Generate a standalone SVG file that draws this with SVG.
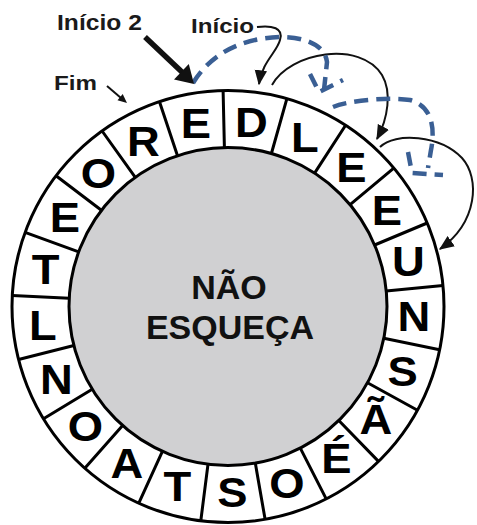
<svg xmlns="http://www.w3.org/2000/svg" width="477" height="525" viewBox="0 0 477 525">
<style>
.ring{stroke:#000;stroke-width:3}
.lt{font-family:"Liberation Sans",Arial,sans-serif;font-weight:bold;font-size:42px;text-anchor:middle;fill:#000}
.ct{font-family:"Liberation Sans",Arial,sans-serif;font-weight:bold;font-size:34px;text-anchor:middle;fill:#111}
.lbl{font-family:"Liberation Sans",Arial,sans-serif;font-weight:bold;fill:#1a1a1a}
.arc{fill:none;stroke:#111;stroke-width:2}
.dash{fill:none;stroke:#3a5f94;stroke-width:4.5;stroke-dasharray:14 8}
</style>
<defs>
<marker id="ah" viewBox="0 0 12 10" refX="11" refY="5" markerWidth="15" markerHeight="13" markerUnits="userSpaceOnUse" orient="auto"><path d="M0,0 L12,5 L0,10 z" fill="#111"/></marker>
</defs>
<rect width="477" height="525" fill="#fff"/>
<g id="ring">
<circle class="ring" cx="228" cy="306.5" r="216" fill="#fff"/>
<circle class="ring" cx="228" cy="306.5" r="159" fill="#d0d0d2"/>
<path class="ring" fill="none" d="M224.4,147.5L223.1,90.6M271.4,153.5L286.9,98.7M314.6,173.1L345.6,125.3M350.1,204.6L393.8,168.1M374.6,245L427.2,223M386.2,291L443,285.4M383.8,338.3L439.6,349.7M367.5,382.8L417.5,410.2M338.8,420.5L378.5,461.4M300.3,448.1L326.2,498.9M255.3,463.1L265.1,519.3M208,464.2L200.8,520.8M162.4,451.3L138.8,503.2M122.6,425.5L84.8,468.2M92.2,389.2L43.5,418.8M73.9,345.5L18.6,359.5M69.2,298.3L12.3,295.4M78.7,251.9L25.1,232.3M101.4,210.3L56,175.8M135.3,177.3L102.1,131M177.5,155.7L159.5,101.7"/>
</g>
<g id="center">
<text class="ct" x="229" y="299">NÃO</text>
<text class="ct" x="230" y="339">ESQUEÇA</text>
</g>
<g id="c00"><text class="lt" transform="translate(251.5 137) scale(1.08 1)">D</text></g>
<g id="c01"><text class="lt" transform="translate(304.9 152.1) scale(1.08 1)">L</text></g>
<g id="c02"><text class="lt" transform="translate(351.4 182.3) scale(1.08 1)">E</text></g>
<g id="c03"><text class="lt" transform="translate(386.9 224.8) scale(1.08 1)">E</text></g>
<g id="c04"><text class="lt" transform="translate(408.3 276) scale(1.08 1)">U</text></g>
<g id="c05"><text class="lt" transform="translate(413.8 331.1) scale(1.08 1)">N</text></g>
<g id="c06"><text class="lt" transform="translate(402.7 385.5) scale(1.08 1)">S</text></g>
<g id="c07"><text class="lt" transform="translate(376 434.1) scale(1.08 1)">Ã</text></g>
<g id="c08"><text class="lt" transform="translate(336.3 472.7) scale(1.08 1)">É</text></g>
<g id="c09"><text class="lt" transform="translate(286.9 497.9) scale(1.08 1)">O</text></g>
<g id="c10"><text class="lt" transform="translate(232.3 507.4) scale(1.08 1)">S</text></g>
<g id="c11"><text class="lt" transform="translate(177.3 500.5) scale(1.08 1)">T</text></g>
<g id="c12"><text class="lt" transform="translate(126.8 477.6) scale(1.08 1)">A</text></g>
<g id="c13"><text class="lt" transform="translate(85.3 440.8) scale(1.08 1)">O</text></g>
<g id="c14"><text class="lt" transform="translate(56.5 393.5) scale(1.08 1)">N</text></g>
<g id="c15"><text class="lt" transform="translate(42.9 339.7) scale(1.08 1)">L</text></g>
<g id="c16"><text class="lt" transform="translate(45.7 284.4) scale(1.08 1)">T</text></g>
<g id="c17"><text class="lt" transform="translate(64.8 232.3) scale(1.08 1)">E</text></g>
<g id="c18"><text class="lt" transform="translate(98.3 188.2) scale(1.08 1)">O</text></g>
<g id="c19"><text class="lt" transform="translate(143.4 155.9) scale(1.08 1)">R</text></g>
<g id="c20"><text class="lt" transform="translate(195.9 138.3) scale(1.08 1)">E</text></g>
<g id="lbl-inicio2"><text class="lbl" font-size="22" transform="translate(57 30) scale(1.12 1)">Início 2</text></g>
<g id="lbl-inicio"><text class="lbl" font-size="21" transform="translate(191 33) scale(1.15 1)">Início</text></g>
<g id="lbl-fim"><text class="lbl" font-size="21" transform="translate(54 90) scale(1.15 1)">Fim</text></g>
<g id="connectors">
<path class="arc" d="M257,27 C272,25 284,28 280,40 C277,52 262,62 259,84" marker-end="url(#ah)"/>
<path class="arc" d="M272,85 C290,52 360,40 382,75 C392,92 388,118 377,139" marker-end="url(#ah)"/>
<path class="arc" d="M380,147 C395,132 440,135 462,158 C480,178 478,222 440,249" marker-end="url(#ah)"/>
<path class="dash" d="M193,83 C210,55 240,38 280,37 C305,37 325,45 327,62 L324,90"/>
<path class="dash" d="M310,74 L319,92 L343,80"/>
<path class="dash" d="M333,107 C350,100 390,97 410,100 C430,105 436,125 431,150 L428,168"/>
<path class="dash" d="M408,152 L412,173 L443,175"/>
<line x1="145" y1="37" x2="183" y2="73" stroke="#111" stroke-width="5.5"/>
<polygon points="194,84 174,79.5 188.8,64" fill="#111"/>
<line x1="107" y1="86" x2="121" y2="98" stroke="#111" stroke-width="2"/>
<polygon points="127,103 117.5,100.2 122.7,94.1" fill="#111"/>
</g>
</svg>
